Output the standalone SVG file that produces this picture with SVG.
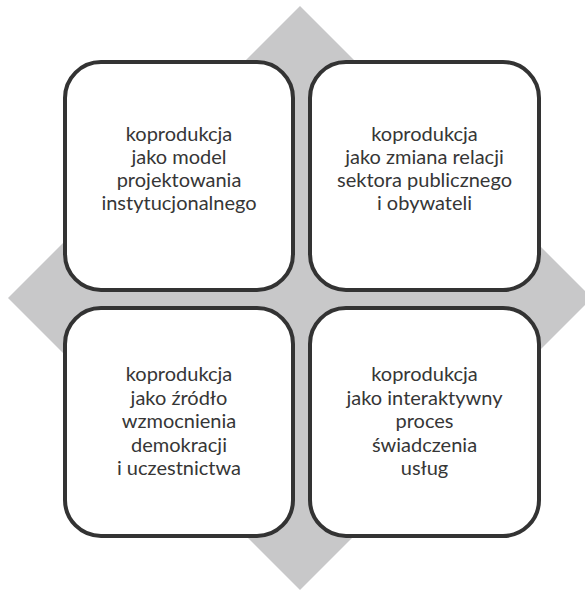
<svg xmlns="http://www.w3.org/2000/svg" width="585" height="591" viewBox="0 0 585 591">
  <style>
    .box { fill: #ffffff; stroke: #333333; stroke-width: 4; }
    .lbl { font-family: Lato, "Open Sans", "Liberation Sans", sans-serif; font-size: 20px; fill: #363636; text-anchor: middle; }
  </style>
  <rect width="585" height="591" fill="#ffffff"/>
  <g id="diamond">
    <polygon points="300,6 592,298 300,590 8,298" fill="#c8c8c9"/>
  </g>
  <g id="connectors"/>
  <g id="node-tl">
    <rect class="box" x="65" y="62" width="228" height="228" rx="36" ry="36"/>
    <text class="lbl" x="179" y="141">koprodukcja</text>
    <text class="lbl" x="179" y="164">jako model</text>
    <text class="lbl" x="179" y="187">projektowania</text>
    <text class="lbl" x="179" y="210">instytucjonalnego</text>
  </g>
  <g id="node-tr">
    <rect class="box" x="310" y="62" width="229" height="228" rx="36" ry="36"/>
    <text class="lbl" x="424.5" y="141">koprodukcja</text>
    <text class="lbl" x="424.5" y="164">jako zmiana relacji</text>
    <text class="lbl" x="424.5" y="187">sektora publicznego</text>
    <text class="lbl" x="424.5" y="210">i obywateli</text>
  </g>
  <g id="node-bl">
    <rect class="box" x="65" y="308" width="228" height="228" rx="36" ry="36"/>
    <text class="lbl" x="179" y="381">koprodukcja</text>
    <text class="lbl" x="179" y="404.5">jako źródło</text>
    <text class="lbl" x="179" y="428">wzmocnienia</text>
    <text class="lbl" x="179" y="451.5">demokracji</text>
    <text class="lbl" x="179" y="475">i uczestnictwa</text>
  </g>
  <g id="node-br">
    <rect class="box" x="310" y="308" width="229" height="228" rx="36" ry="36"/>
    <text class="lbl" x="424.5" y="381">koprodukcja</text>
    <text class="lbl" x="424.5" y="404.5">jako interaktywny</text>
    <text class="lbl" x="424.5" y="428">proces</text>
    <text class="lbl" x="424.5" y="451.5">świadczenia</text>
    <text class="lbl" x="424.5" y="475">usług</text>
  </g>
</svg>
